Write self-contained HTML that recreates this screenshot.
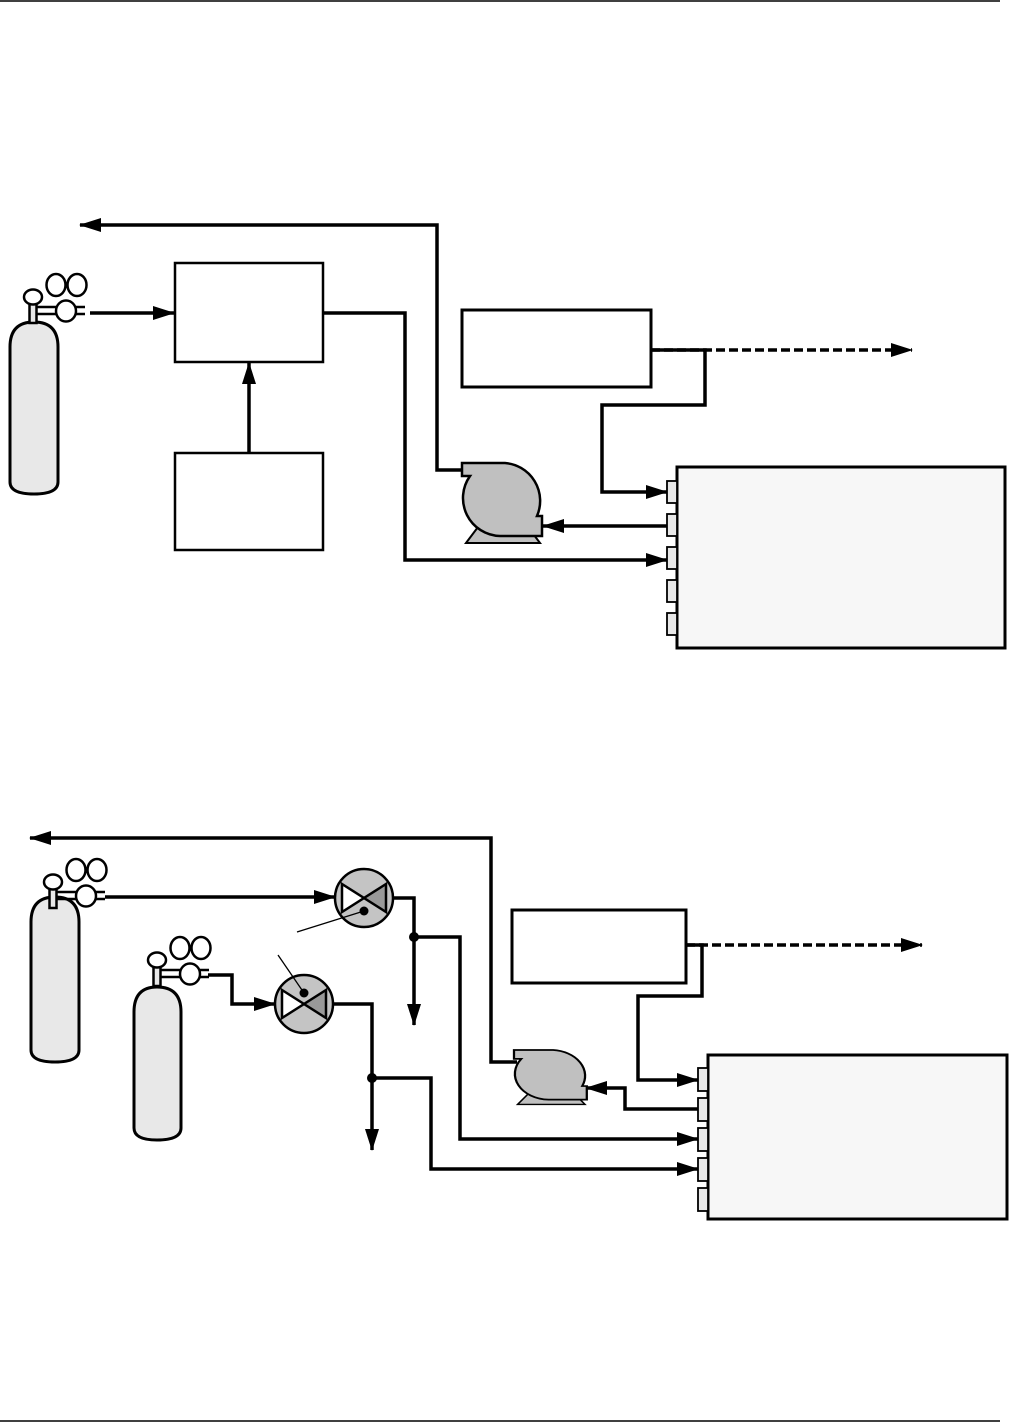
<!DOCTYPE html>
<html><head><meta charset="utf-8"><style>html,body{margin:0;padding:0;background:#fff}svg{display:block}</style></head>
<body>
<svg width="1009" height="1422" viewBox="0 0 1009 1422" xmlns="http://www.w3.org/2000/svg">
<defs>
<marker id="a" markerWidth="22" markerHeight="14" refX="21" refY="7" orient="auto" markerUnits="userSpaceOnUse"><path d="M0,0 L22,7 L0,14 Z" fill="#000"/></marker>
<g id="head">
  <rect x="-3.5" y="-22" width="7" height="23" fill="#e8e8e8" stroke="#000" stroke-width="2.5"/>
  <ellipse cx="0" cy="-25" rx="9" ry="7.5" fill="#fff" stroke="#000" stroke-width="2.5"/>
  <line x1="3" y1="-15" x2="52" y2="-15" stroke="#000" stroke-width="2.5"/>
  <line x1="3" y1="-8" x2="52" y2="-8" stroke="#000" stroke-width="2.5"/>
  <ellipse cx="23" cy="-37" rx="9.5" ry="11" fill="#fff" stroke="#000" stroke-width="2.5"/>
  <ellipse cx="44" cy="-37" rx="9.5" ry="11" fill="#fff" stroke="#000" stroke-width="2.5"/>
  <ellipse cx="33" cy="-11" rx="10" ry="10.5" fill="#fff" stroke="#000" stroke-width="2.5"/>
</g>
<g id="pump">
  <path d="M466,543 L478,527 L528,527 L540,543 Z" fill="#c0c0c0" stroke="#000" stroke-width="2"/>
  <path d="M462,463 H505 A38,38 0 0 1 537,516 H542 V536 H500 A38,38 0 0 1 470,476 H462 Z" fill="#c0c0c0" stroke="#000" stroke-width="2.5"/>
</g>
<g id="valve">
  <circle cx="0" cy="0" r="29" fill="#c4c4c4" stroke="#000" stroke-width="2.5"/>
  <path d="M-22,-14 L0,0 L-22,14 Z" fill="#fff" stroke="#000" stroke-width="2.5"/>
  <path d="M22,-14 L0,0 L22,14 Z" fill="#999" stroke="#000" stroke-width="2.5"/>
</g>
</defs>
<line x1="0" y1="1" x2="1000" y2="1" stroke="#000" stroke-width="1.5"/>
<line x1="0" y1="1421" x2="1000" y2="1421" stroke="#000" stroke-width="1.5"/>

<g fill="none" stroke="#000" stroke-width="3.5">
<polyline points="462,470 437,470 437,225 80,225" marker-end="url(#a)"/>
<line x1="90" y1="313" x2="174" y2="313" marker-end="url(#a)"/>
<line x1="249" y1="453" x2="249" y2="363" marker-end="url(#a)"/>
<polyline points="323,313 405,313 405,560 667,560" marker-end="url(#a)"/>
<line x1="651" y1="350" x2="912" y2="350" stroke-dasharray="9,4" marker-end="url(#a)"/>
<polyline points="651,350 705,350 705,405 602,405 602,492 667,492" marker-end="url(#a)"/>
<line x1="670" y1="526" x2="543" y2="526" marker-end="url(#a)"/>

<polyline points="517,1062 491,1062 491,838 30,838" marker-end="url(#a)"/>
<polyline points="105,897 335,897" marker-end="url(#a)"/>
<polyline points="394,898 414,898 414,1025" marker-end="url(#a)"/>
<polyline points="414,937 460,937 460,1139 698,1139" marker-end="url(#a)"/>
<polyline points="208,975 232,975 232,1004 275,1004" marker-end="url(#a)"/>
<polyline points="334,1004 372,1004 372,1150" marker-end="url(#a)"/>
<polyline points="372,1078 431,1078 431,1169 698,1169" marker-end="url(#a)"/>
<line x1="686" y1="945" x2="922" y2="945" stroke-dasharray="9,4" marker-end="url(#a)"/>
<polyline points="686,945 702,945 702,996 638,996 638,1080 698,1080" marker-end="url(#a)"/>
<polyline points="698,1109 625,1109 625,1088 586,1088" marker-end="url(#a)"/>
</g>

<!-- cylinders -->
<path d="M10,347 Q10,322 34,322 Q58,322 58,347 V482 Q58,494 34,494 Q10,494 10,482 Z" fill="#e8e8e8" stroke="#000" stroke-width="3"/>
<use href="#head" x="33" y="322"/>
<path d="M31,922 Q31,897 55,897 Q79,897 79,922 V1050 Q79,1062 55,1062 Q31,1062 31,1050 Z" fill="#e8e8e8" stroke="#000" stroke-width="3"/>
<use href="#head" x="53" y="907"/>
<path d="M134,1012 Q134,987 157,987 Q181,987 181,1012 V1128 Q181,1140 157,1140 Q134,1140 134,1128 Z" fill="#e8e8e8" stroke="#000" stroke-width="3"/>
<use href="#head" x="157" y="985"/>

<rect x="175" y="263" width="148" height="99" fill="#fff" stroke="#000" stroke-width="2.5"/>
<rect x="175" y="453" width="148" height="97" fill="#fff" stroke="#000" stroke-width="2.5"/>
<rect x="462" y="310" width="189" height="77" fill="#fff" stroke="#000" stroke-width="3"/>
<use href="#pump"/>
<rect x="677" y="467" width="328" height="181" fill="#f7f7f7" stroke="#000" stroke-width="3"/>
<g fill="#e8e8e8" stroke="#000" stroke-width="1.8">
<rect x="667" y="481" width="10" height="22"/><rect x="667" y="514" width="10" height="22"/><rect x="667" y="547" width="10" height="22"/><rect x="667" y="580" width="10" height="22"/><rect x="667" y="613" width="10" height="22"/>
</g>

<use href="#valve" x="364" y="898"/>
<use href="#valve" x="304" y="1004"/>
<circle cx="364" cy="911" r="4.5" fill="#000"/>
<circle cx="304" cy="993" r="4.5" fill="#000"/>
<line x1="297" y1="932" x2="364" y2="911" stroke="#000" stroke-width="1.3"/>
<line x1="278" y1="955" x2="304" y2="993" stroke="#000" stroke-width="1.3"/>
<circle cx="414" cy="937" r="5" fill="#000"/>
<circle cx="372" cy="1078" r="5" fill="#000"/>
<rect x="512" y="910" width="174" height="73" fill="#fff" stroke="#000" stroke-width="3"/>
<g transform="translate(514 1050) scale(0.91 0.68) translate(-462 -463)"><use href="#pump"/></g>
<rect x="708" y="1055" width="299" height="164" fill="#f7f7f7" stroke="#000" stroke-width="3"/>
<g fill="#e8e8e8" stroke="#000" stroke-width="1.8">
<rect x="698" y="1068" width="10" height="23"/><rect x="698" y="1098" width="10" height="23"/><rect x="698" y="1128" width="10" height="23"/><rect x="698" y="1158" width="10" height="23"/><rect x="698" y="1188" width="10" height="23"/>
</g>
</svg>
</body></html>
